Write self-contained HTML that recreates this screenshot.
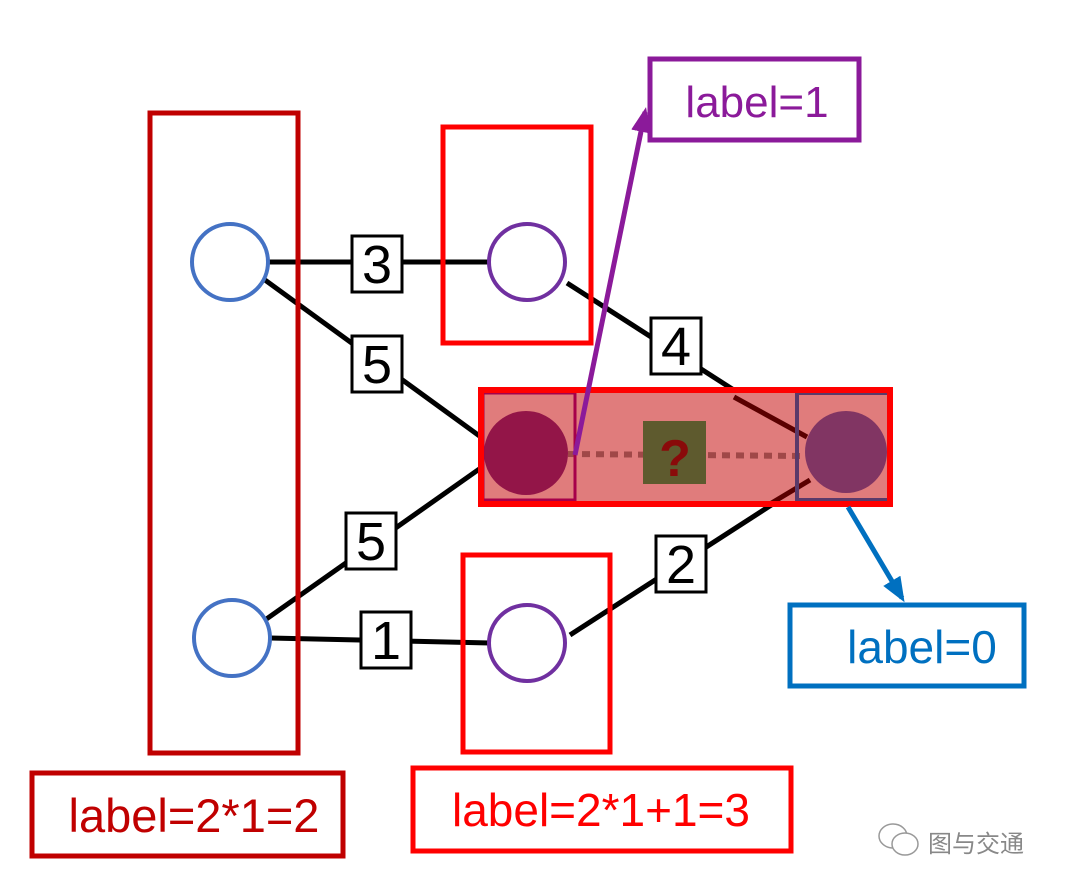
<!DOCTYPE html>
<html><head><meta charset="utf-8"><style>body{margin:0;background:#fff}svg{display:block}</style></head><body>
<svg width="1065" height="888" viewBox="0 0 1065 888" xmlns="http://www.w3.org/2000/svg" font-family="Liberation Sans, sans-serif">
<defs>
<marker id="ap" markerWidth="5" markerHeight="4" refX="4" refY="2" orient="auto" markerUnits="strokeWidth"><path d="M0,0 L5,2 L0,4 z" fill="#8b1a9a"/></marker>
<marker id="ab" markerWidth="5" markerHeight="4" refX="4" refY="2" orient="auto" markerUnits="strokeWidth"><path d="M0,0 L5,2 L0,4 z" fill="#0070c0"/></marker>
</defs>
<g stroke="#000" stroke-width="5">
<line x1="268" y1="262" x2="488" y2="262"/>
<line x1="265" y1="280" x2="485" y2="440"/>
<line x1="265" y1="620" x2="485" y2="465"/>
<line x1="270" y1="638" x2="490" y2="643"/>
<line x1="567" y1="283" x2="807" y2="437"/>
<line x1="570" y1="635" x2="810" y2="480"/>
</g>
<rect x="481" y="390" width="409" height="114" fill="#e07c7c"/>
<line x1="734" y1="397" x2="807" y2="437" stroke="#5a0000" stroke-width="5"/>
<line x1="770" y1="504" x2="810" y2="480" stroke="#5a0000" stroke-width="5"/>
<line x1="568" y1="454" x2="806" y2="456" stroke="#a04848" stroke-width="6" stroke-dasharray="8,6"/>
<rect x="643" y="421" width="63" height="63" fill="#5e5a2e"/>
<text x="675" y="476" font-size="52" font-weight="bold" fill="#8a0a0a" text-anchor="middle">?</text>
<circle cx="526" cy="453" r="42" fill="#931548"/>
<circle cx="846" cy="452" r="41" fill="#813563"/>
<rect x="483" y="393" width="92" height="107" fill="none" stroke="#a6004a" stroke-width="3"/>
<rect x="797" y="393" width="94" height="107" fill="none" stroke="#5a3a6a" stroke-width="4"/>
<rect x="481" y="390" width="409" height="114" fill="none" stroke="#ff0000" stroke-width="6"/>
<g fill="#fff" stroke-width="4">
<circle cx="230" cy="262" r="38" stroke="#4472c4"/>
<circle cx="232" cy="638" r="38" stroke="#4472c4"/>
<circle cx="527" cy="262" r="38" stroke="#7030a0"/>
<circle cx="527" cy="643" r="38" stroke="#7030a0"/>
</g>
<g fill="#fff" stroke="#000" stroke-width="3">
<rect x="352" y="236" width="50" height="56"/>
<rect x="352" y="336" width="50" height="56"/>
<rect x="346" y="513" width="50" height="56"/>
<rect x="361" y="612" width="50" height="56"/>
<rect x="651" y="318" width="50" height="56"/>
<rect x="656" y="536" width="50" height="56"/>
</g>
<g font-size="54" text-anchor="middle" fill="#000">
<text x="377" y="283">3</text><text x="377" y="383">5</text><text x="371" y="560">5</text>
<text x="386" y="659">1</text><text x="676" y="365">4</text><text x="681" y="583">2</text>
</g>
<rect x="150" y="113" width="148" height="640" fill="none" stroke="#c00000" stroke-width="5"/>
<rect x="443" y="127" width="148" height="216" fill="none" stroke="#ff0000" stroke-width="5"/>
<rect x="463" y="555" width="147" height="197" fill="none" stroke="#ff0000" stroke-width="5"/>
<line x1="575" y1="455" x2="645" y2="112" stroke="#8b1a9a" stroke-width="5" marker-end="url(#ap)"/>
<line x1="848" y1="507" x2="902" y2="598" stroke="#0070c0" stroke-width="5" marker-end="url(#ab)"/>
<rect x="650" y="59" width="209" height="81" fill="#fff" stroke="#8b1a9a" stroke-width="5"/>
<text x="757" y="117" font-size="44" fill="#8b1a9a" text-anchor="middle">label=1</text>
<rect x="790" y="605" width="234" height="81" fill="#fff" stroke="#0070c0" stroke-width="5"/>
<text x="922" y="663" font-size="46" fill="#0070c0" text-anchor="middle">label=0</text>
<rect x="32" y="773" width="311" height="83" fill="#fff" stroke="#c00000" stroke-width="5"/>
<text x="194" y="832" font-size="47" fill="#c00000" text-anchor="middle">label=2*1=2</text>
<rect x="413" y="768" width="378" height="83" fill="#fff" stroke="#ff0000" stroke-width="5"/>
<text x="601" y="826" font-size="46" fill="#ff0000" text-anchor="middle">label=2*1+1=3</text>
<g fill="#fff" stroke="#999" stroke-width="1.5">
<ellipse cx="893" cy="836" rx="14" ry="12"/><ellipse cx="905" cy="844" rx="13" ry="11"/>
</g>
<text x="928" y="852" font-size="24" fill="#888" font-family="Liberation Sans, Noto Sans CJK SC, sans-serif">图与交通</text>
</svg>
</body></html>
